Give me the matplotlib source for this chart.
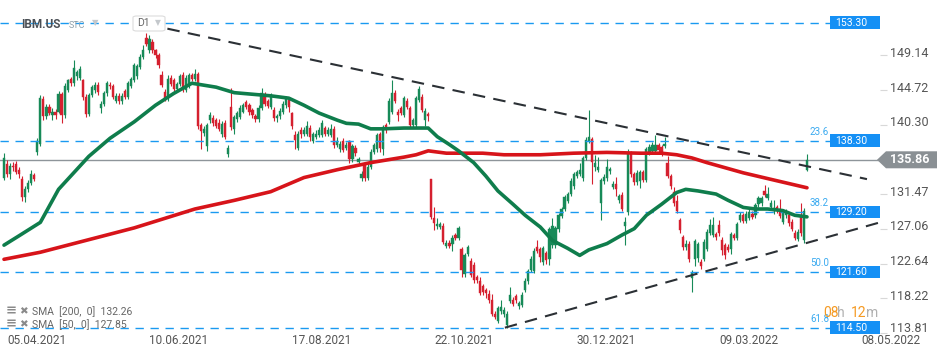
import numpy as np
import matplotlib
matplotlib.use('Agg')
import matplotlib.pyplot as plt
import matplotlib.transforms as mtransforms
from matplotlib.patches import Rectangle, Polygon, FancyBboxPatch
from matplotlib.transforms import blended_transform_factory

plt.rcParams['font.family'] = ['Roboto', 'DejaVu Sans']

# daily candles, IBM.US, 01.04.2021 - 20.04.2022
opens = [
    133.6, 135.3, 134.0, 135.1, 135.3, 134.5, 133.4, 131.1, 132.2, 132.9,
    133.9, 136.9, 137.9, 143.6, 141.4, 142.6, 141.5, 142.0, 142.0, 144.2,
    141.5, 144.8, 146.2, 145.6, 146.5, 146.3, 146.0, 143.9, 141.7, 144.1,
    144.7, 145.4, 142.4, 143.0, 144.3, 145.4, 145.2, 143.4, 144.0, 143.3,
    144.6, 143.9, 145.3, 146.0, 146.5, 147.7, 149.0, 151.4, 149.8, 150.9,
    149.8, 149.2, 146.7, 144.5, 143.7, 146.3, 146.0, 144.9, 145.5, 146.7,
    144.8, 145.2, 146.6, 146.2, 146.8, 140.3, 139.3, 137.6, 140.9, 141.2,
    140.9, 140.6, 139.1, 140.6, 136.6, 142.6, 139.8, 141.0, 141.3, 142.0,
    143.2, 142.8, 142.2, 141.4, 141.0, 142.5, 144.2, 143.3, 142.6, 142.2,
    141.2, 141.4, 142.0, 142.8, 143.5, 141.8, 139.0, 137.4, 139.6, 139.2,
    139.2, 139.9, 138.3, 138.8, 139.0, 139.0, 139.9, 139.2, 139.0, 139.8,
    137.8, 137.2, 138.3, 137.4, 138.2, 135.9, 137.4, 135.6, 133.5, 135.2,
    133.6, 135.0, 136.9, 137.2, 139.1, 137.2, 140.3, 140.7, 142.0, 144.4,
    142.0, 142.4, 141.6, 143.4, 142.4, 140.3, 140.3, 143.5, 143.9, 140.9,
    141.7, 133.4, 128.5, 127.4, 127.3, 127.4, 124.9, 125.3, 125.2, 126.3,
    125.9, 124.5, 121.3, 123.9, 123.0, 122.5, 120.9, 120.4, 119.8, 119.3,
    118.8, 118.0, 116.2, 115.4, 116.6, 116.2, 114.9, 117.9, 118.0, 118.5,
    117.2, 117.4, 119.3, 120.4, 121.9, 121.7, 124.8, 124.5, 122.8, 124.0,
    123.2, 125.0, 125.0, 127.0, 128.7, 129.6, 130.6, 131.5, 132.5, 133.8,
    134.1, 133.5, 136.1, 138.3, 138.5, 135.0, 134.6, 130.3, 133.1, 133.5,
    134.4, 132.4, 132.8, 130.7, 131.4, 127.5, 129.2, 136.7, 134.0, 133.0,
    133.1, 134.3, 133.3, 136.8, 137.0, 137.0, 137.7, 137.5, 137.6, 135.5,
    133.8, 131.8, 130.6, 128.2, 126.0, 124.8, 125.2, 120.8, 123.3, 123.4,
    122.9, 123.3, 124.5, 126.6, 126.3, 126.4, 127.6, 125.7, 125.0, 124.8,
    124.5, 126.3, 125.9, 128.2, 128.8, 128.1, 128.5, 129.0, 128.8, 130.2,
    130.3, 131.9, 131.0, 129.9, 129.3, 129.8, 129.6, 128.0, 128.8, 128.9,
    128.0, 126.6, 125.8, 128.8, 125.6, 134.5,
]
highs = [
    136.7, 135.8, 135.5, 135.6, 135.7, 134.9, 133.8, 132.5, 133.3, 134.6,
    134.2, 138.6, 144.1, 144.0, 143.0, 143.0, 142.4, 142.3, 144.6, 144.5,
    145.6, 146.2, 146.4, 148.5, 147.3, 147.8, 146.2, 144.2, 144.4, 145.4,
    145.7, 145.7, 143.3, 144.6, 145.9, 145.8, 145.5, 144.3, 144.3, 144.4,
    144.9, 145.9, 146.4, 148.2, 148.1, 149.3, 150.5, 152.0, 151.8, 151.2,
    150.0, 149.4, 147.2, 144.9, 146.6, 146.6, 146.3, 145.8, 146.8, 147.0,
    146.6, 146.9, 146.9, 147.4, 147.0, 140.6, 140.2, 140.6, 142.0, 141.5,
    141.2, 141.0, 140.8, 140.9, 137.7, 145.0, 141.6, 142.1, 142.8, 143.1,
    143.5, 143.1, 142.5, 141.7, 142.8, 145.0, 144.5, 143.6, 144.4, 142.6,
    141.7, 142.5, 143.3, 144.0, 143.7, 142.0, 139.5, 139.5, 140.0, 140.0,
    140.8, 140.3, 139.4, 139.6, 140.0, 140.9, 140.2, 140.0, 140.4, 140.1,
    138.7, 138.2, 138.6, 138.1, 138.4, 137.9, 137.7, 136.2, 134.4, 135.5,
    135.3, 137.2, 138.0, 139.3, 139.4, 140.3, 140.6, 143.7, 146.0, 144.8,
    142.3, 142.7, 144.0, 143.7, 142.7, 141.2, 144.0, 145.2, 144.2, 142.5,
    142.0, 133.4, 129.9, 128.5, 128.0, 127.8, 125.6, 125.6, 126.3, 126.6,
    127.5, 124.8, 124.0, 125.0, 123.4, 122.8, 121.2, 121.0, 120.1, 119.6,
    119.3, 118.8, 116.6, 117.3, 118.0, 117.1, 116.6, 119.7, 118.4, 118.8,
    117.9, 119.0, 120.8, 122.0, 123.6, 124.6, 125.6, 124.8, 124.9, 124.3,
    127.3, 128.4, 127.5, 129.1, 129.9, 131.4, 131.8, 133.5, 134.3, 134.6,
    135.5, 136.4, 138.7, 142.2, 138.8, 136.5, 136.2, 133.6, 134.1, 135.9,
    135.0, 133.1, 133.7, 131.5, 131.7, 128.6, 137.2, 137.0, 134.3, 134.5,
    134.6, 134.6, 137.5, 137.9, 138.1, 139.0, 138.0, 137.8, 138.8, 136.3,
    134.1, 132.4, 131.4, 128.5, 126.3, 125.6, 125.5, 121.8, 125.8, 125.4,
    123.2, 125.8, 127.0, 128.3, 128.6, 126.7, 128.2, 126.0, 125.3, 125.1,
    126.7, 126.6, 128.0, 129.2, 129.1, 129.3, 129.6, 129.3, 130.4, 131.3,
    131.3, 132.6, 132.4, 130.7, 130.8, 130.1, 130.9, 129.6, 129.6, 129.2,
    128.3, 126.9, 127.0, 130.4, 129.7, 136.6,
]
lows = [
    133.3, 133.7, 133.4, 134.4, 134.0, 133.6, 130.6, 130.5, 131.8, 132.7,
    133.1, 136.5, 137.6, 140.9, 141.0, 141.5, 140.9, 141.0, 141.8, 140.6,
    141.2, 144.5, 145.3, 145.3, 146.0, 146.0, 143.5, 141.3, 141.4, 143.8,
    144.4, 144.1, 141.8, 142.7, 144.0, 144.9, 143.6, 143.1, 143.0, 143.0,
    143.6, 143.6, 145.0, 145.7, 146.2, 147.4, 148.7, 150.3, 149.5, 149.5,
    148.8, 147.6, 145.1, 143.4, 143.4, 145.2, 144.6, 144.6, 145.2, 144.5,
    144.5, 145.0, 145.9, 145.9, 139.8, 137.2, 138.9, 137.0, 140.6, 140.2,
    139.9, 139.5, 138.8, 138.5, 136.2, 139.6, 139.2, 140.7, 141.0, 141.8,
    142.3, 141.6, 141.2, 140.7, 140.7, 142.2, 142.7, 142.4, 142.3, 140.8,
    140.7, 141.1, 141.7, 142.5, 142.0, 139.8, 137.2, 137.1, 138.6, 138.9,
    138.9, 138.3, 138.0, 138.5, 138.7, 138.7, 138.9, 138.9, 138.7, 137.4,
    137.5, 136.9, 136.8, 137.1, 135.4, 135.6, 136.4, 135.3, 133.1, 133.2,
    133.3, 134.7, 136.6, 136.9, 136.9, 136.5, 139.3, 140.4, 141.7, 143.1,
    140.8, 141.5, 141.3, 142.3, 140.0, 140.0, 140.0, 143.2, 141.9, 140.2,
    140.8, 128.3, 126.9, 127.0, 127.0, 125.1, 124.6, 124.6, 124.2, 125.6,
    125.6, 121.0, 121.0, 123.6, 120.9, 120.2, 120.2, 118.6, 118.6, 118.3,
    117.7, 116.0, 115.6, 115.1, 116.3, 115.9, 114.5, 117.6, 117.2, 117.6,
    116.9, 117.1, 119.0, 120.1, 121.6, 121.4, 124.0, 122.8, 122.5, 122.6,
    122.5, 124.7, 124.7, 126.7, 128.4, 129.3, 130.3, 131.2, 132.2, 133.5,
    133.8, 133.2, 135.8, 138.0, 132.8, 134.4, 134.3, 128.2, 132.8, 133.2,
    134.1, 132.1, 131.2, 130.4, 129.3, 125.0, 128.9, 133.7, 132.7, 132.7,
    132.3, 133.0, 133.0, 136.5, 136.7, 136.7, 136.8, 136.3, 137.3, 133.5,
    132.2, 130.0, 129.1, 126.6, 124.4, 124.4, 122.9, 119.0, 122.3, 122.9,
    122.0, 123.0, 124.2, 126.3, 126.0, 125.7, 126.2, 123.7, 123.2, 124.1,
    123.9, 125.6, 125.6, 127.9, 127.8, 127.8, 128.2, 128.3, 128.5, 129.9,
    130.0, 131.1, 130.7, 129.6, 129.0, 129.1, 128.4, 127.7, 128.5, 127.5,
    126.8, 125.6, 125.5, 126.2, 125.3, 134.4,
]
closes = [
    136.1, 134.0, 135.1, 134.9, 134.3, 134.0, 131.1, 132.2, 132.9, 134.0,
    133.4, 138.3, 143.7, 141.4, 142.6, 141.8, 142.0, 141.6, 144.2, 141.5,
    145.3, 146.0, 145.6, 147.5, 147.0, 147.4, 143.9, 141.7, 144.1, 145.1,
    145.4, 144.5, 143.0, 144.3, 145.6, 145.2, 143.9, 144.0, 143.3, 144.0,
    143.9, 145.6, 146.1, 147.9, 147.8, 149.0, 149.8, 150.6, 151.2, 149.8,
    149.2, 147.9, 145.4, 143.7, 146.2, 145.5, 144.9, 145.5, 146.5, 144.8,
    146.3, 146.6, 146.2, 146.8, 140.1, 139.5, 139.8, 140.3, 141.6, 140.5,
    140.2, 139.8, 140.4, 138.8, 137.4, 140.0, 141.3, 141.8, 142.5, 142.8,
    142.6, 141.9, 141.5, 141.0, 142.5, 144.3, 143.0, 142.7, 144.0, 141.2,
    141.4, 142.1, 143.0, 143.6, 142.6, 140.2, 138.4, 139.2, 139.2, 139.6,
    140.1, 138.7, 139.1, 139.2, 139.6, 140.5, 139.2, 139.7, 139.8, 137.7,
    138.3, 137.9, 137.1, 137.8, 135.9, 137.6, 136.7, 135.9, 134.1, 133.6,
    135.0, 136.9, 137.7, 139.0, 137.4, 140.0, 139.6, 143.4, 144.4, 143.4,
    141.5, 141.8, 143.7, 142.6, 140.3, 140.9, 143.7, 144.9, 142.2, 142.1,
    141.4, 128.6, 127.8, 127.7, 127.7, 125.4, 125.3, 124.9, 125.9, 125.9,
    127.2, 121.8, 123.8, 124.8, 121.2, 120.6, 120.6, 118.9, 119.1, 118.9,
    118.0, 116.3, 115.9, 117.0, 117.1, 116.8, 116.3, 118.7, 117.5, 118.0,
    117.6, 118.7, 120.5, 121.7, 123.3, 124.3, 124.3, 123.5, 124.6, 123.1,
    127.0, 127.4, 127.2, 128.8, 129.6, 131.1, 131.5, 133.2, 134.0, 134.3,
    134.6, 136.1, 138.4, 138.8, 135.6, 135.4, 135.0, 133.3, 133.7, 134.9,
    134.7, 132.8, 132.1, 131.2, 129.6, 127.9, 136.7, 134.0, 133.0, 134.2,
    134.3, 133.3, 137.2, 137.5, 137.8, 137.8, 137.1, 136.6, 137.9, 133.8,
    132.5, 130.4, 129.4, 126.9, 124.8, 125.2, 123.3, 121.4, 125.5, 125.1,
    122.4, 125.4, 126.7, 127.6, 127.6, 126.0, 126.5, 124.4, 123.8, 124.4,
    126.4, 125.9, 127.7, 128.9, 128.1, 129.0, 129.2, 128.6, 130.1, 131.0,
    131.0, 131.4, 131.5, 130.4, 129.7, 129.4, 128.7, 129.3, 129.3, 127.8,
    127.1, 125.9, 126.7, 126.5, 129.4, 135.86,
]

# moving averages (bar index, value)
sma50_idx = [0, 5, 12, 15, 18, 28, 35, 43, 50, 56, 62, 70, 76, 88, 94, 99, 104,
             110, 113, 117, 121, 125, 132, 140, 143, 147, 150, 155, 159, 163,
             168, 172, 177, 181, 186, 190, 193, 199, 204, 208, 212, 217, 222,
             225, 229, 235, 239, 244, 248, 252, 257, 261, 265]
sma50_val = [125.0, 126.2, 127.9, 130.0, 132.1, 136.3, 138.6, 140.7, 142.8,
             144.3, 145.6, 145.1, 144.4, 144.0, 143.7, 142.8, 141.8, 140.9,
             140.5, 140.4, 139.8, 139.8, 139.9, 139.9, 138.8, 137.8, 137.0,
             135.5, 133.8, 131.9, 130.2, 128.8, 127.3, 125.6, 124.6, 123.7,
             124.4, 125.2, 126.3, 127.1, 128.8, 130.2, 131.7, 132.1, 131.9,
             131.5, 130.7, 129.8, 129.6, 129.6, 129.4, 128.8, 128.6]
sma200_idx = [0, 12, 25, 43, 63, 76, 88, 99, 110, 121, 132, 136, 140, 146, 158,
              165, 177, 188, 199, 210, 217, 222, 227, 232, 244, 255, 265]
sma200_val = [123.2, 124.1, 125.4, 127.2, 129.6, 130.7, 131.8, 133.6, 134.6,
              135.5, 136.2, 136.5, 137.0, 136.7, 136.7, 136.5, 136.5, 136.7,
              136.8, 136.7, 136.7, 136.5, 136.1, 135.5, 134.2, 133.2, 132.3]

# trend lines (bar index, price)
resist_idx = [47.2, 284.8]
resist_val = [153.1, 133.4]
support_idx = [165.3, 289.1]
support_val = [114.5, 127.9]

levels = [153.30, 138.30, 129.20, 121.60, 114.50]
fib_labels = ['', '23.6', '38.2', '50.0', '61.8']
last_price = 135.86

y_ticks = [149.14, 144.72, 140.30, 131.47, 127.06, 122.64, 118.22, 113.81]
date_idx = [1, 48, 95, 142, 189, 236, 283]
date_labels = ['05.04.2021', '10.06.2021', '17.08.2021', '22.10.2021',
               '30.12.2021', '09.03.2022', '08.05.2022']

GREEN = '#178a58'
RED = '#d5202f'
BLUE = '#1a9af0'
BOX = '#1590f5'

W, H = 950, 358
fig = plt.figure(figsize=(W / 100, H / 100), dpi=100)
fig.patch.set_facecolor('white')
ax = fig.add_axes([0, 23 / H, 880 / W, 335 / H])
ax.set_xlim(-1.32, 289.1)
ax.set_ylim(113.57, 156.19)
for s in ax.spines.values():
    s.set_visible(False)
ax.set_xticks([])
ax.yaxis.tick_right()
ax.set_yticks(y_ticks)
ax.set_yticklabels([])
ax.tick_params(axis='y', length=5, width=0.8, color='#d8d8d8')


def px(x, y):
    return x / W, 1 - y / H


# right-hand price labels, nudged up a little like the platform does
bt = blended_transform_factory(ax.transAxes, ax.transData)
for v in y_ticks:
    dy = 2 if v > 115 else 5
    off = mtransforms.ScaledTranslation(0, dy / 100, fig.dpi_scale_trans)
    ax.text(890 / 880, v, f'{v:.2f}', transform=bt + off, ha='left', va='center',
            fontsize=9, color='#555555', clip_on=False)

# candles
o = np.array(opens)
h = np.array(highs)
l = np.array(lows)
c = np.array(closes)
x = np.arange(len(c))
cols = np.where(c >= o, GREEN, RED)
ax.vlines(x, l, h, colors=cols, lw=0.8, zorder=3)
ax.bar(x, np.maximum(np.abs(c - o), 0.15), bottom=np.minimum(o, c), width=0.72,
       color=cols, edgecolor=cols, lw=0.3, zorder=3)

# horizontal levels
for lv, fl in zip(levels, fib_labels):
    ax.axhline(lv, xmin=0, xmax=830 / 880, color=BLUE, lw=1.0,
               linestyle=(0, (6, 4.8)), zorder=4)
    ax.add_patch(Rectangle((830 / 880, lv - 0.8), 50 / 880, 1.6, transform=bt,
                           facecolor=BOX, edgecolor='none', zorder=7, clip_on=False))
    ax.text(835 / 880, lv, f'{lv:.2f}', transform=bt, color='white', fontsize=7.5,
            ha='left', va='center', zorder=8)
    if fl:
        ax.text(829 / 880, lv + 1.15, fl, transform=bt, color='#3aaaf0', fontsize=7,
                ha='right', va='center', zorder=8)

# current price line
ax.axhline(last_price, xmin=0, xmax=1, color='#8e959a', lw=1.0, zorder=2)

# moving averages
ax.plot(sma200_idx, sma200_val, color='#d7141a', lw=2.6, zorder=5,
        solid_capstyle='round')
ax.plot(sma50_idx, sma50_val, color='#0f7d4c', lw=2.6, zorder=5,
        solid_capstyle='round')

# trend lines
ax.plot(resist_idx, resist_val, color='#2b3035', lw=1.5, linestyle=(0, (6, 4)),
        zorder=6, clip_on=False)
ax.plot(support_idx, support_val, color='#2b3035', lw=1.5, linestyle=(0, (6, 4)),
        zorder=6, clip_on=False)

# date labels
dt = blended_transform_factory(ax.transData, ax.transAxes)
for d, lab in zip(date_idx, date_labels):
    ax.text(d, -6 / 335, lab, transform=dt, ha='left', va='center', fontsize=8.5,
            color='#555555', clip_on=False)

# price tag for last price
tag_y = ax.transData.transform((0, last_price))[1]
ty = H - tag_y
tag = Polygon([px(877, ty), px(886, ty - 8.5), px(937, ty - 8.5), px(937, ty + 8.5),
               px(886, ty + 8.5)], closed=True, transform=fig.transFigure,
              facecolor='#8a9094', edgecolor='none', zorder=10)
fig.patches.append(tag)
fig.text(*px(890, ty), f'{last_price:.2f}', color='white', fontsize=9,
         fontweight='bold', ha='left', va='center', zorder=11)

# header
fig.text(*px(21, 24), 'IBM.US', color='#4a4f55', fontsize=8.5, fontweight='bold',
         ha='left', va='center')
fig.text(*px(69, 25), 'STC', color='#8fa0ab', fontsize=6.5, ha='left', va='center')
fig.text(*px(92, 23), '▼', color='#c4c8cc', fontsize=6, ha='left', va='center')
d1 = FancyBboxPatch(px(133, 31), 32 / W, 15 / H, boxstyle='round,pad=0,rounding_size=0.004',
                    transform=fig.transFigure, facecolor='white', edgecolor='#dcdcdc',
                    lw=0.8, zorder=9)
fig.patches.append(d1)
fig.text(*px(137, 23.5), 'D1', color='#666666', fontsize=7.5, ha='left', va='center',
         zorder=10)
fig.text(*px(155, 23), '▼', color='#c4c8cc', fontsize=5.5, ha='left', va='center',
         zorder=10)

# indicator legend
for yy, txt in [(311, 'SMA  [200,  0]  132.26'), (324, 'SMA  [50,  0]  127.85')]:
    fig.text(*px(6, yy), '≡', color='#8a8a8a', fontsize=9.5, ha='left', va='center',
             fontweight='bold')
    fig.text(*px(19, yy), '✖', color='#8a8a8a', fontsize=7.5, ha='left', va='center')
    fig.text(*px(32, yy + 1), txt, color='#666666', fontsize=7.5, ha='left',
             va='center')

# countdown
fig.text(*px(823, 313), '08', color='#f59a23', fontsize=10, ha='left', va='center')
fig.text(*px(837, 313), 'h', color='#b0b0b0', fontsize=10, ha='left', va='center')
fig.text(*px(851, 313), '12', color='#f59a23', fontsize=10, ha='left', va='center')
fig.text(*px(866, 313), 'm', color='#b0b0b0', fontsize=10, ha='left', va='center')

fig.savefig('out.png', dpi=100)
